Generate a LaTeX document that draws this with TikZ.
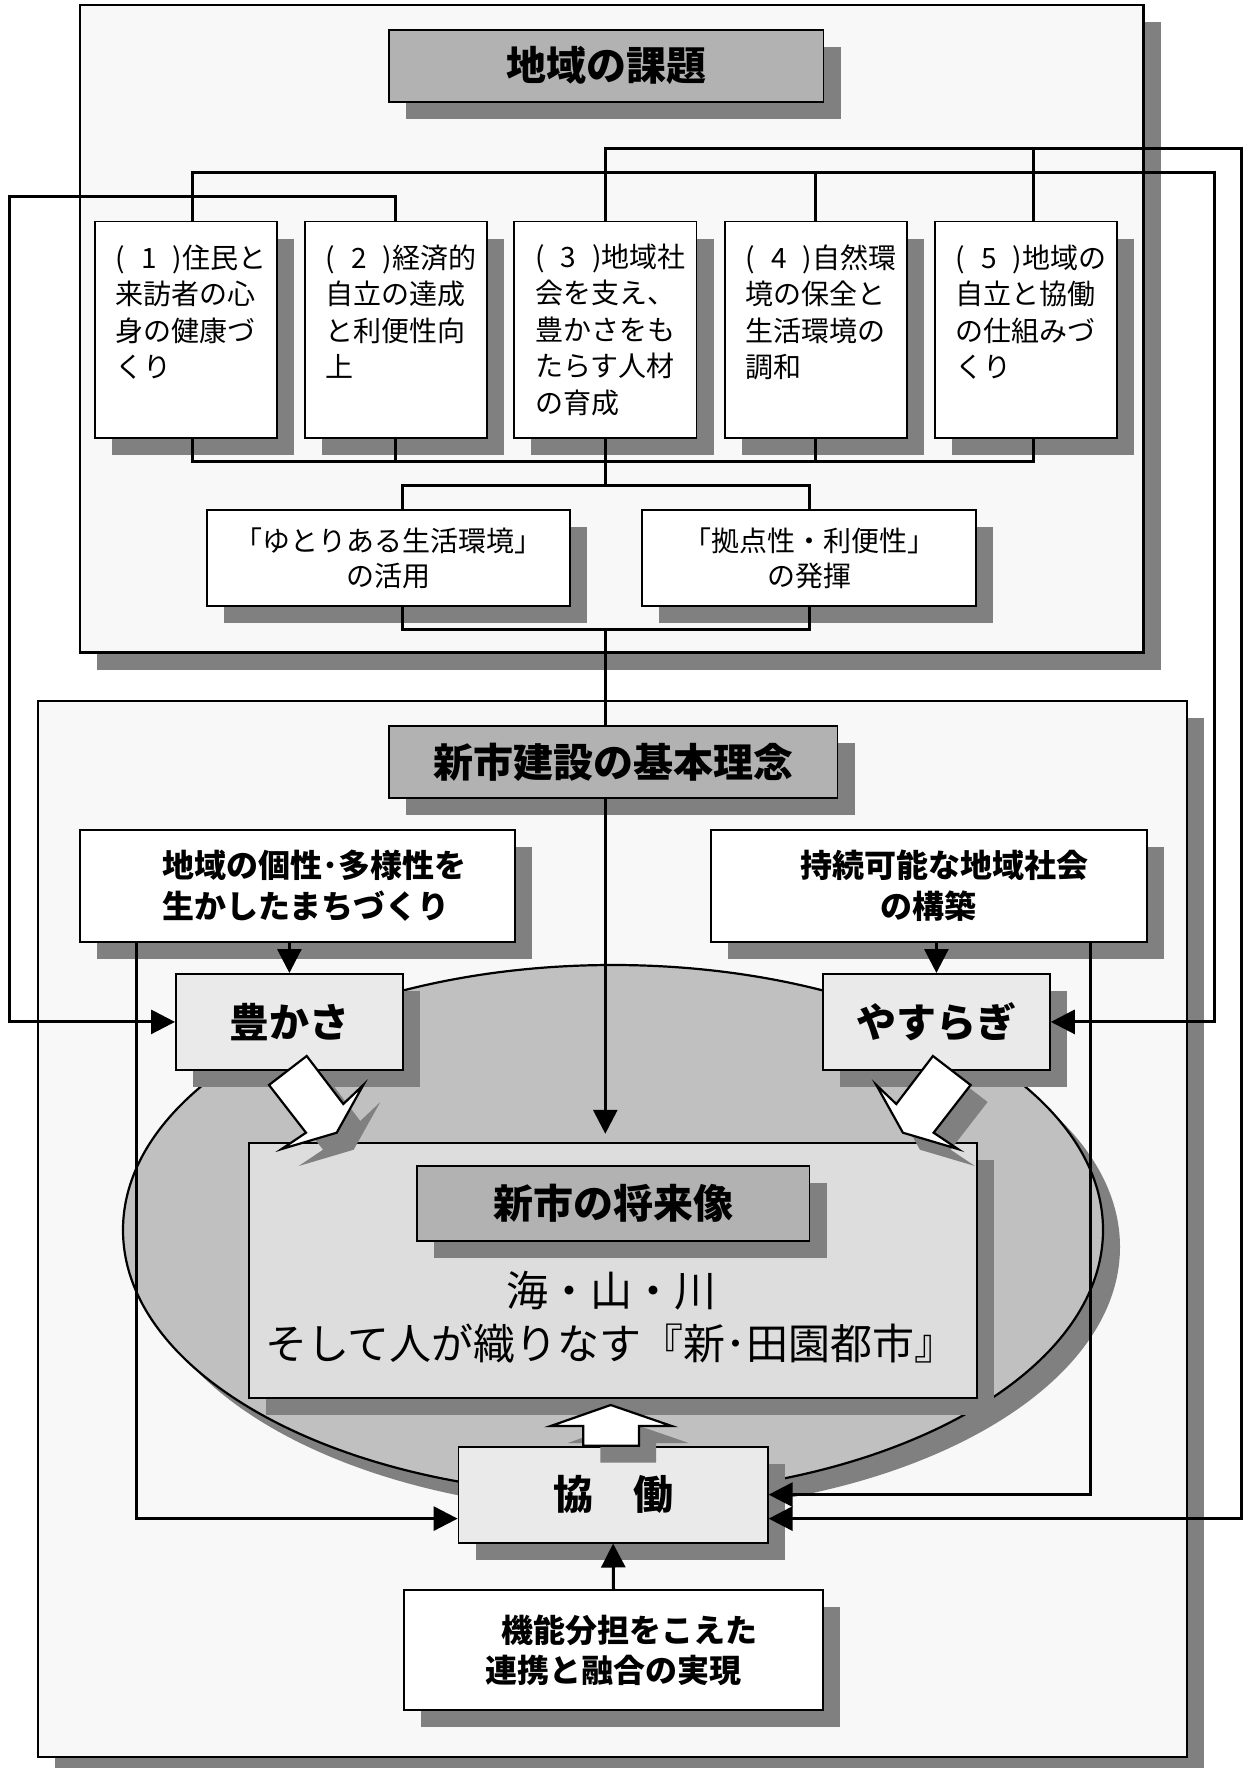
\documentclass[tikz,border=0pt]{standalone}
\usepackage{fontspec}
\setmainfont{Noto Sans CJK JP}
\usetikzlibrary{arrows.meta,shadows}
\definecolor{pagegray}{HTML}{F8F8F8}
\definecolor{titlegray}{HTML}{B2B2B2}
\definecolor{shadegray}{HTML}{808080}
\definecolor{keygray}{HTML}{EAEAEA}
\definecolor{ovalgray}{HTML}{C0C0C0}
\definecolor{visiongray}{HTML}{DDDDDD}
\tikzset{
  boxshadow/.style={drop shadow={shadow xshift=17pt,shadow yshift=-17pt,fill=shadegray,draw=none,opacity=1}},
  areaframe/.style={draw,line width=2.8pt,fill=pagegray,boxshadow},
  titlebox/.style={draw,line width=1.8pt,fill=titlegray,boxshadow,inner sep=0pt,anchor=north west,
    font=\fontsize{40pt}{48pt}\selectfont\bfseries},
  kadai/.style={draw,line width=1.8pt,fill=white,boxshadow,anchor=north west,minimum width=182.4pt,
    minimum height=216pt,text width=140.4pt,inner xsep=21pt,inner ysep=0pt,align=left,
    font=\fontsize{28pt}{36.5pt}\selectfont},
  subbox/.style={draw,line width=1.8pt,fill=white,boxshadow,anchor=north west,inner sep=0pt,align=center,
    font=\fontsize{28pt}{35pt}\selectfont},
  keybox/.style={draw,line width=1.8pt,fill=white,boxshadow,anchor=north west,inner sep=0pt,
    font=\fontsize{32pt}{41pt}\selectfont\bfseries},
  keyword/.style={draw,line width=1.8pt,fill=keygray,boxshadow,anchor=north west,inner sep=0pt,
    font=\fontsize{40pt}{48pt}\selectfont\bfseries},
  conn/.style={line width=3pt},
  toarrow/.style={-{Triangle[length=24pt,width=24pt]}},
  blockarrow/.style={draw,line width=2.2pt,fill=white,line join=miter,boxshadow},
}
\begin{document}
\begin{tikzpicture}[x=1pt,y=-1pt]
\useasboundingbox (0,0) rectangle (1243,1768);
% frames
\draw[areaframe] (80,5) rectangle (1143.6,652.7);
\draw[areaframe] (38,701) rectangle (1187,1757);

% issues
\node[titlebox,minimum width=434.6pt,minimum height=72pt] (kadaiTitle) at (388,29) {地域の課題};
\node[kadai] (b1) at (93.7,220.7) {(\kern16pt 1\kern16pt)住民と\\来訪者の心\\身の健康づ\\くり\\\mbox{}};
\node[kadai] (b2) at (303.7,220.7) {(\kern16pt 2\kern16pt)経済的\\自立の達成\\と利便性向\\上\\\mbox{}};
\node[kadai] (b3) at (513.2,220.7) {(\kern16pt 3\kern16pt)地域社\\会を支え、\\豊かさをも\\たらす人材\\の育成};
\node[kadai] (b4) at (723.7,220.7) {(\kern16pt 4\kern16pt)自然環\\境の保全と\\生活環境の\\調和\\\mbox{}};
\node[kadai] (b5) at (934,220.7) {(\kern16pt 5\kern16pt)地域の\\自立と協働\\の仕組みづ\\くり\\\mbox{}};
\node[subbox,minimum width=363.4pt,minimum height=95.7pt] (yutori) at (206,509.3) {「ゆとりある生活環境」\\の活用};
\node[subbox,minimum width=334.6pt,minimum height=95.7pt] (kyoten) at (640.8,509.3) {「拠点性・利便性」\\の発揮};

% basic idea
\node[titlebox,minimum width=448.8pt,minimum height=72.3pt] (kihon) at (387.8,725) {新市建設の基本理念};
\node[keybox,minimum width=434.6pt,minimum height=112pt,align=left] (tayou) at (79.3,829)
  {\hspace*{33pt}地域の個性･多様性を\\\hspace*{33pt}生かしたまちづくり};
\node[keybox,minimum width=436.3pt,minimum height=112pt,align=center] (jizoku) at (709.7,829)
  {\hspace*{32pt}持続可能な地域社会\\の構築};

\draw[line width=2.2pt,fill=ovalgray,boxshadow] (613,1230) ellipse [x radius=490,y radius=265];

\node[keyword,minimum width=227pt,minimum height=96pt] (yutakasa) at (175,973) {豊かさ};
\node[keyword,minimum width=227pt,minimum height=96pt] (yasuragi) at (822,973) {やすらぎ};
\node[draw,line width=1.8pt,fill=visiongray,boxshadow,anchor=north west,minimum width=728.5pt,
  minimum height=255.2pt] (vision) at (247.7,1141.8) {};
\node[titlebox,minimum width=392.6pt,minimum height=75pt] (visionTitle) at (416,1165) {新市の将来像};
\node[font=\fontsize{42pt}{53.6pt}\selectfont,align=center] (motto) at (611,1317)
  {海・山・川\\そして人が織りなす『新･田園都市』};
\node[keyword,minimum width=309.2pt,minimum height=96pt] (kyodo) at (457.6,1445.7) {協　働};
\node[keybox,minimum width=419.6pt,minimum height=120pt,align=center,
  font=\fontsize{32pt}{40pt}\selectfont\bfseries] (jitsugen) at (402.8,1589.3)
  {\hspace*{32pt}機能分担をこえた\\連携と融合の実現};

% connectors
\coordinate (t1) at ([xshift=7pt]b1.north);
\coordinate (t5) at ([xshift=7pt]b5.north);
\coordinate (u1) at ([xshift=7pt]b1.south);
\coordinate (u5) at ([xshift=7pt]b5.south);
\coordinate (busA) at (1241,148.3);
\coordinate (busB) at (1214.7,172.3);
\coordinate (busC) at (9.9,196.7);
\coordinate (busD) at (0,461.7);
\coordinate (busE) at (0,485);
\coordinate (busF) at (0,629.3);
\coordinate (yl) at ([xshift=14pt]yutori.north);
\coordinate (yb) at ([xshift=14pt]yutori.south);
\coordinate (tl) at ([xshift=57pt]tayou.south west);
\coordinate (jr) at ([xshift=-57pt]jizoku.south east);

\draw[conn,toarrow] (b3.north) |- (busA) |- ([yshift=-24pt]kyodo.east);
\draw[conn] (t5) -- (t5 |- busA);
\draw[conn,toarrow] (t1) |- (busB) |- (yasuragi.east);
\draw[conn] (b4.north) -- (b4.north |- busB);
\draw[conn,toarrow] (b2.north) |- (busC) |- (yutakasa.west);

\draw[conn] (u1) |- (u5 |- busD) -- (u5);
\draw[conn] (b2.south) -- (b2.south |- busD);
\draw[conn] (b3.south) -- (b3.south |- busE);
\draw[conn] (b4.south) -- (b4.south |- busD);
\draw[conn] (yl) |- (kyoten.north |- busE) -- (kyoten.north);
\draw[conn] (yb) |- (kyoten.south |- busF) -- (kyoten.south);
\draw[conn] (b3.south |- busF) -- (b3.south |- kihon.north);
\draw[conn,toarrow,shorten >=8pt] (b3.south |- kihon.south) -- (b3.south |- vision.north);

\draw[conn,toarrow] (yutakasa.north |- tayou.south) -- (yutakasa.north);
\draw[conn,toarrow] (yasuragi.north |- jizoku.south) -- (yasuragi.north);
\draw[conn,toarrow] (tl) |- ([yshift=-24pt]kyodo.west);
\draw[conn,toarrow] (jr) |- (kyodo.east);
\draw[conn,toarrow] (jitsugen.north) -- (kyodo.south);

% block arrows
\draw[blockarrow] (306.7,1056) -- (343.3,1104) -- (363.3,1085) -- (336.7,1132.7) -- (281.7,1149)
  -- (306,1132.7) -- (269,1085) -- cycle;
\draw[blockarrow] (932.9,1056) -- (896.3,1104) -- (876.3,1085) -- (902.9,1132.7) -- (957.9,1149)
  -- (933.6,1132.7) -- (970.6,1085) -- cycle;
\draw[blockarrow] (610.7,1405) -- (671.7,1426) -- (639,1426) -- (639,1445.7) -- (583.3,1445.7)
  -- (583.3,1426) -- (550.7,1426) -- cycle;
\end{tikzpicture}
\end{document}
